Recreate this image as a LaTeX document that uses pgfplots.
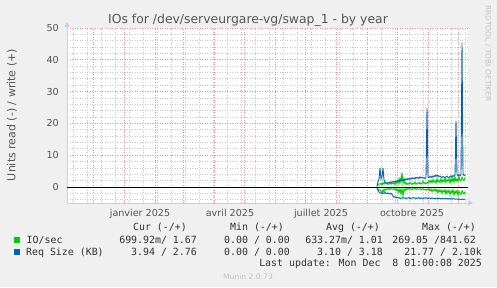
\documentclass[border=0pt]{standalone}
\usepackage{fontspec}
\setmainfont{DejaVu Sans}
\newfontfamily\monofont{DejaVu Sans Mono}
\usepackage{pgfplots}
\pgfplotsset{compat=1.18}
\usepackage{pgfplotstable}
\usetikzlibrary{arrows.meta}
\definecolor{bg}{HTML}{F0F0F0}
\definecolor{iocol}{HTML}{00CC00}
\definecolor{reqcol}{HTML}{0066B3}
\definecolor{mgrid}{RGB}{238,140,140}
\definecolor{ngrid}{RGB}{200,200,200}
\definecolor{axcol}{RGB}{195,205,245}
\definecolor{txt}{RGB}{85,85,85}
\definecolor{legtxt}{RGB}{50,50,50}
\definecolor{wm}{RGB}{195,195,195}

\pgfplotstableread{
day wsz rsz wio rio
253 0.3 -0.3 0.2 -0.2
254 1.8 -1.0 0.8 -0.6
255 2.4 -1.6 1.0 -0.8
256 6.0 -1.8 0.9 -1.0
257 2.6 -1.9 1.2 -1.2
258 3.2 -2.0 0.7 -1.9
259 6.0 -1.8 1.4 -0.8
260 2.2 -2.0 0.9 -1.5
261 1.5 -1.7 1.6 -0.6
262 1.3 -1.9 1.0 -0.9
263 1.2 -2.1 1.3 -0.5
264 1.5 -1.8 0.8 -0.7
265 1.3 -2.0 1.1 -0.4
266 1.6 -2.2 1.5 -0.8
267 1.4 -1.9 0.9 -0.5
268 1.7 -2.3 1.2 -0.6
269 1.5 -2.8 1.0 -0.7
270 1.8 -3.2 1.4 -0.5
271 1.6 -3.0 0.8 -0.9
272 1.9 -3.4 1.9 -0.4
273 1.7 -3.1 1.1 -1.2
274 2.1 -3.4 2.4 -0.6
275 1.9 -3.3 1.0 -1.8
276 2.3 -3.6 2.8 -0.5
277 2.0 -3.4 1.3 -2.2
278 2.4 -3.5 4.6 -0.4
279 2.1 -3.3 1.2 -2.8
280 2.5 -3.5 2.5 -0.6
281 2.2 -3.4 0.9 -1.2
282 2.6 -3.6 1.4 -0.5
283 2.3 -3.4 0.8 -0.8
284 2.7 -3.5 1.2 -0.4
285 2.4 -3.3 0.9 -0.7
286 2.8 -3.6 1.5 -0.5
287 2.5 -3.4 1.1 -0.6
288 2.9 -3.5 0.8 -0.9
289 2.6 -3.3 1.3 -0.5
290 2.9 -3.5 1.0 -0.6
291 2.6 -3.4 1.6 -0.4
292 3.1 -3.6 0.9 -0.8
293 2.8 -3.4 1.2 -0.5
294 3.0 -3.5 1.4 -0.7
295 2.7 -3.3 1.0 -0.6
296 3.2 -3.6 1.5 -0.5
297 2.9 -3.4 0.9 -0.9
298 3.1 -3.5 1.3 -0.6
299 2.8 -3.6 1.8 -0.5
300 3.0 -3.4 1.1 -0.8
301 2.7 -3.5 1.4 -0.7
302 2.9 -3.3 1.0 -1.0
303 24.8 -3.5 1.5 -0.6
304 3.1 -3.6 1.2 -0.9
305 3.0 -3.4 2.0 -0.5
306 3.3 -3.5 1.4 -1.2
307 3.0 -3.6 2.2 -0.6
308 3.4 -3.4 1.3 -1.5
309 3.1 -3.5 2.4 -0.7
310 3.6 -3.6 1.5 -1.2
311 3.3 -3.5 2.0 -0.6
312 3.8 -3.6 1.2 -1.4
313 3.4 -3.5 2.6 -0.7
314 3.7 -3.7 1.6 -1.8
315 3.3 -3.5 2.2 -0.8
316 3.5 -3.6 1.4 -1.5
317 3.2 -3.7 2.7 -0.9
318 3.0 -3.5 1.5 -2.0
319 3.3 -3.6 2.3 -1.0
320 3.1 -3.7 1.6 -1.6
321 2.9 -3.6 2.9 -0.8
322 3.2 -3.5 1.4 -2.2
323 3.4 -3.7 2.4 -1.0
324 3.1 -3.6 1.8 -1.8
325 3.0 -3.8 2.6 -0.9
326 3.3 -3.6 1.3 -2.4
327 3.5 -3.7 2.8 -1.1
328 3.2 -3.8 1.6 -1.9
329 3.6 -3.6 3.0 -0.8
330 3.4 -3.7 1.5 -2.5
331 3.8 -3.8 3.2 -1.2
332 20.8 -3.7 1.7 -2.0
333 3.9 -3.8 2.6 -1.0
334 3.5 -3.7 1.8 -2.6
335 4.0 -3.9 3.4 -1.3
336 3.6 -3.8 2.0 -1.8
337 3.9 -3.9 1.9 -2.4
338 45.4 -3.8 3.1 -1.1
339 4.2 -3.9 2.4 -1.6
340 3.6 -3.8 2.0 -2.2
341 3.9 -3.9 3.0 -1.4
}\datatable

\begin{document}
\begin{tikzpicture}
\useasboundingbox (0pt,0pt) rectangle (497pt,287pt);
\fill[bg] (0pt,0pt) rectangle (497pt,287pt);
\begin{axis}[
  at={(67pt,84pt)}, anchor=south west,
  scale only axis, width=401pt, height=175pt,
  xmin=-57, xmax=344, ymin=-5, ymax=50,
  axis background/.style={fill=white},
  axis x line=bottom, axis y line=left,
  axis line style={draw=axcol, line width=0.9pt},
  x axis line style={-{Triangle[length=5pt,width=5pt]}, shorten >=-5pt},
  y axis line style={-{Triangle[length=5pt,width=5pt]}, shorten >=-6pt},
  major tick length=0pt, minor tick length=0pt,
  xtick={16,106,197,288},
  xticklabels={janvier 2025, avril 2025, juillet 2025, octobre 2025},
  minor xtick={-51,-37,-23,-9,5,19,33,47,61,75,89,103,117,131,145,159,173,187,201,215,229,257,271,285,299,313,327,341},
  extra x ticks={-31,0,31,59,90,120,151,181,212,243,273,304,334},
  extra x tick labels={},
  extra x tick style={grid=major},
  xminorgrids=true,
  ytick={0,10,20,30,40,50},
  yticklabels={0,10,20,30,40,50},
  minor ytick={-4,-2,2,4,6,8,12,14,16,18,22,24,26,28,32,34,36,38,42,44,46,48},
  ymajorgrids=true, yminorgrids=true,
  major grid style={mgrid, line width=1pt, dash pattern=on 1pt off 1.5pt},
  minor grid style={ngrid, line width=1pt, dash pattern=on 1pt off 1.5pt},
  /pgf/number format/assume math mode=true,
  xticklabel style={font=\fontsize{9.6}{11}\selectfont, text=txt, anchor=base, inner sep=0pt, yshift=-13.7pt},
  yticklabel style={font=\fontsize{9.6}{11}\selectfont, text=txt, anchor=east, inner sep=0pt, xshift=-8pt},
]
\addplot[black, line width=1.1pt] coordinates {(-57,0) (344,0)};
\addplot[iocol, line width=0.9pt] table[x=day,y=wio]{\datatable};
\addplot[iocol, line width=0.9pt] table[x=day,y=rio]{\datatable};
\addplot[reqcol, line width=0.9pt] table[x=day,y=wsz]{\datatable};
\addplot[reqcol, line width=0.9pt] table[x=day,y=rsz]{\datatable};
\end{axis}
\begin{scope}[x=1pt,y=1pt]
% title and labels
\node[anchor=base, text=txt, font=\fontsize{12.4}{14}\selectfont, inner sep=0pt] at (248,263.7) {IOs for /dev/serveurgare-vg/swap\_1 - by year};
\node[rotate=90, anchor=base, text=txt, font=\fontsize{11}{13}\selectfont, inner sep=0pt] at (15.3,172) {Units read (-) / write (+)};
\node[rotate=-90, anchor=base, text=wm, font=\fontsize{7.5}{9}\selectfont, inner sep=0pt] at (485.5,233.5) {RRDTOOL / TOBI OETIKER};
% legend
\begin{scope}[every node/.style={inner sep=0pt, text=legtxt, font=\monofont\fontsize{9.9}{11}\selectfont}]
\node[anchor=base east] at (187,56.3) {Cur (-/+)};
\node[anchor=base east] at (284,56.3) {Min (-/+)};
\node[anchor=base east] at (380,56.3) {Avg (-/+)};
\node[anchor=base east] at (476,56.3) {Max (-/+)};
\fill[iocol] (14,44) rectangle (20,50);
\node[anchor=base west] at (26.5,43.7) {IO/sec};
\node[anchor=base east] at (197,43.7) {699.92m/ 1.67};
\node[anchor=base east] at (290,43.7) {0.00 / 0.00};
\node[anchor=base east] at (383,43.7) {633.27m/ 1.01};
\node[anchor=base east] at (476,43.7) {269.05 /841.62};
\fill[reqcol] (14,32) rectangle (20,38);
\node[anchor=base west] at (26,31.7) {Req Size (KB)};
\node[anchor=base east] at (197,31.7) {3.94 / 2.76};
\node[anchor=base east] at (290,31.7) {0.00 / 0.00};
\node[anchor=base east] at (383,31.7) {3.10 / 3.18};
\node[anchor=base east] at (482,31.7) {21.77 / 2.10k};
\node[anchor=base east] at (482,20.3) {Last update: Mon Dec\ \ 8 01:00:08 2025};
\end{scope}
\node[anchor=base, text=wm, inner sep=0pt, font=\fontsize{7.6}{9}\selectfont] at (248,7.7) {Munin 2.0.73};
\end{scope}
\end{tikzpicture}
\end{document}
